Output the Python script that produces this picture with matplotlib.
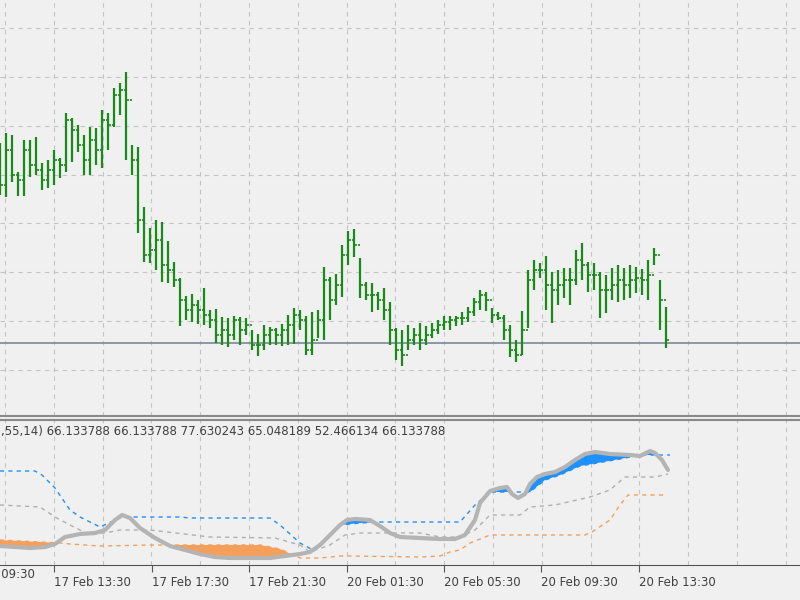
import matplotlib
matplotlib.use("Agg")
import matplotlib.pyplot as plt
import numpy as np

# price bars (values in chart price units; higher = up)
highs_px = [143,133,135,172,140,140,137,163,160,150,158,113,118,125,135,127,128,110,113,88,83,72,
            145,147,207,228,220,222,241,262,278,296,294,300,288,310,309,317,318,316,317,318,330,334,325,327,328,324,315,308,
            310,316,312,310,267,277,274,245,231,229,258,282,283,292,288,302,328,330,325,328,323,326,323,320,316,316,316,312,307,298,290,292,
            308,312,315,325,340,311,270,260,263,256,272,270,268,268,250,243,262,263,272,275,268,265,268,265,267,269,260,248,280,307]
lows_px = [195,197,182,196,196,177,175,190,188,185,178,172,162,152,175,175,165,168,150,127,115,160,
           175,233,262,263,270,282,283,287,326,320,322,324,325,328,343,345,347,340,345,335,350,356,350,345,345,346,345,344,
           330,355,355,338,340,320,305,297,265,257,298,300,312,310,320,345,360,366,350,345,350,345,338,334,330,330,326,325,322,316,310,311,
           323,320,340,357,362,355,328,290,278,310,323,305,298,305,285,280,292,290,318,313,300,302,300,298,293,295,300,265,330,348]
closes_px = [185,150,175,180,150,165,170,180,170,160,165,120,130,145,160,140,150,120,125,95,90,100,
             160,220,255,250,240,265,270,280,300,310,305,310,315,320,335,330,335,320,330,325,345,345,335,330,335,330,325,315,
             320,350,340,320,280,300,285,255,240,245,285,295,295,300,310,330,350,355,340,335,340,335,330,325,322,320,318,318,312,302,295,300,
             315,318,330,350,355,330,280,270,270,285,290,285,280,280,260,265,275,275,290,290,285,280,285,280,278,280,275,255,300,340]
level_px = 343

def p(v):
    return 600 - np.asarray(v, dtype=float)

highs = p(highs_px); lows = p(lows_px); closes = p(closes_px)
opens = np.concatenate([[p(165)], closes[:-1]])
bar_x = np.arange(len(highs)) * 6.0

# indicator lines (x in chart px, value)
ind_x = [0,15,30,45,55,65,80,95,105,115,122,130,140,155,170,185,200,215,230,250,270,285,300,310,320,330,340,347,355,370,380,390,400,420,440,455,465,475,480,490,500,507,512,518,525,530,537,545,555,565,575,585,595,610,630,640,650,655,662,668]
ind_y = [546,547,548,547,544,537,534,533,530,520,515,518,528,538,546,550,554,557,558,558,558,556,554,552,545,535,525,520,519,520,526,533,537,538,539,539,535,520,503,491,488,487,494,498,494,484,477,474,472,467,460,454,452,454,455,456,451,453,460,470]
up_x = [0,35,42,55,70,80,100,122,130,180,190,270,280,300,313,325,340,360,380,400,460,475,490,530,545,560,580,620,640,670]
up_y = [471,471,475,488,510,517,527,517,517,517,518,518,525,543,550,540,525,523,522,522,522,505,492,492,480,475,466,459,455,455]
mid_x = [0,40,55,70,90,110,120,150,210,275,300,310,330,345,360,420,440,460,475,490,520,530,555,590,610,625,655,668]
mid_y = [505,507,517,525,535,532,530,530,537,538,545,552,545,535,533,533,537,537,530,515,515,507,505,497,490,477,477,474]
lo_x = [0,60,70,100,152,170,260,280,300,320,340,350,420,440,450,460,470,490,530,585,592,610,620,628,666]
lo_y = [540,543,544,546,545,545,545,549,558,558,556,556,557,556,552,550,543,535,535,535,532,520,505,495,495]

tick_px = [-43,54,152,249,347,444,541,639]
tick_labels = ["17 Feb 09:30","17 Feb 13:30","17 Feb 17:30","17 Feb 21:30","20 Feb 01:30","20 Feb 05:30","20 Feb 09:30","20 Feb 13:30"]
header = ",55,14) 66.133788 66.133788 77.630243 65.048189 52.466134 66.133788"

BG = "#f0f0f0"; GRID = "#c4c4c4"
fig = plt.figure(figsize=(8, 6), dpi=100, facecolor=BG)
ax1 = fig.add_axes([0, 184/600, 1, 416/600], facecolor=BG)
ax2 = fig.add_axes([0, 35/600, 1, 145/600], facecolor=BG)

vgrid = np.arange(5, 800, 48.8)
for ax in (ax1, ax2):
    for v in vgrid:
        ax.axvline(v, color=GRID, ls=(0, (4, 4)), lw=0.8, zorder=0)
    ax.set_yticks([])
    for s in ax.spines.values():
        s.set_visible(False)
ax1.set_xticks([])

ax1.set_ylim(600 - 416, 600)
for h in [28, 77, 126, 175, 223, 272, 321, 370]:
    ax1.axhline(600 - h, color=GRID, ls=(0, (4, 4)), lw=0.8, zorder=0)
ax1.axhline(600 - level_px, color="#7a8899", lw=1.2, zorder=1)
ax1.spines["bottom"].set_visible(True)
ax1.spines["bottom"].set_color("#8a8a8a"); ax1.spines["bottom"].set_linewidth(1.5)
green = "#1a8a1a"
ax1.vlines(bar_x, lows, highs, color=green, lw=1.6, zorder=3)
ax1.hlines(opens, bar_x - 2.5, bar_x, color=green, lw=1.2, zorder=3)
ax1.hlines(closes, bar_x, bar_x + 2.5, color=green, lw=1.2, zorder=3)

# lower panel
xs = np.arange(0, 669, 1.0)
iy = np.interp(xs, ind_x, ind_y); uy = np.interp(xs, up_x, up_y); ly = np.interp(xs, lo_x, lo_y)
ax2.fill_between(xs, iy, uy, where=iy < uy, color="#1e90ff", lw=0, zorder=2)
ax2.fill_between(xs, iy, ly, where=iy > ly, color="#f4a05a", lw=0, zorder=2)
ax2.plot(up_x, up_y, color="#1e90ff", ls=(0, (3, 3)), lw=1, zorder=3)
ax2.plot(mid_x, mid_y, color="#b0b0b0", ls=(0, (3, 3)), lw=1, zorder=3)
ax2.plot(lo_x, lo_y, color="#f4a05a", ls=(0, (3, 3)), lw=1, zorder=3)
ax2.plot(ind_x, ind_y, color="#b4b4b4", lw=3, zorder=4, solid_capstyle="round")
ax2.text(1, 432, header, fontsize=8.5, color="#404040", va="center", ha="left")
ax2.spines["top"].set_visible(True); ax2.spines["top"].set_color("#8a8a8a"); ax2.spines["top"].set_linewidth(1.5)
ax2.spines["bottom"].set_visible(True); ax2.spines["bottom"].set_color("#555555")

ax2.set_xticks(tick_px[1:])
ax2.set_xticklabels(tick_labels[1:], ha="left", fontsize=8.5, color="#404040")
ax2.tick_params(axis="x", length=5, color="#555555", pad=3, direction="out")
for ax in (ax1, ax2):
    ax.set_xlim(0, 800)
ax2.set_ylim(565, 420)
ax2.text(tick_px[0] + 1, -0.02, tick_labels[0], transform=ax2.get_xaxis_transform(),
         ha="left", va="top", fontsize=8.5, color="#404040", clip_on=False)

fig.savefig("out.png", dpi=100, facecolor=BG)
